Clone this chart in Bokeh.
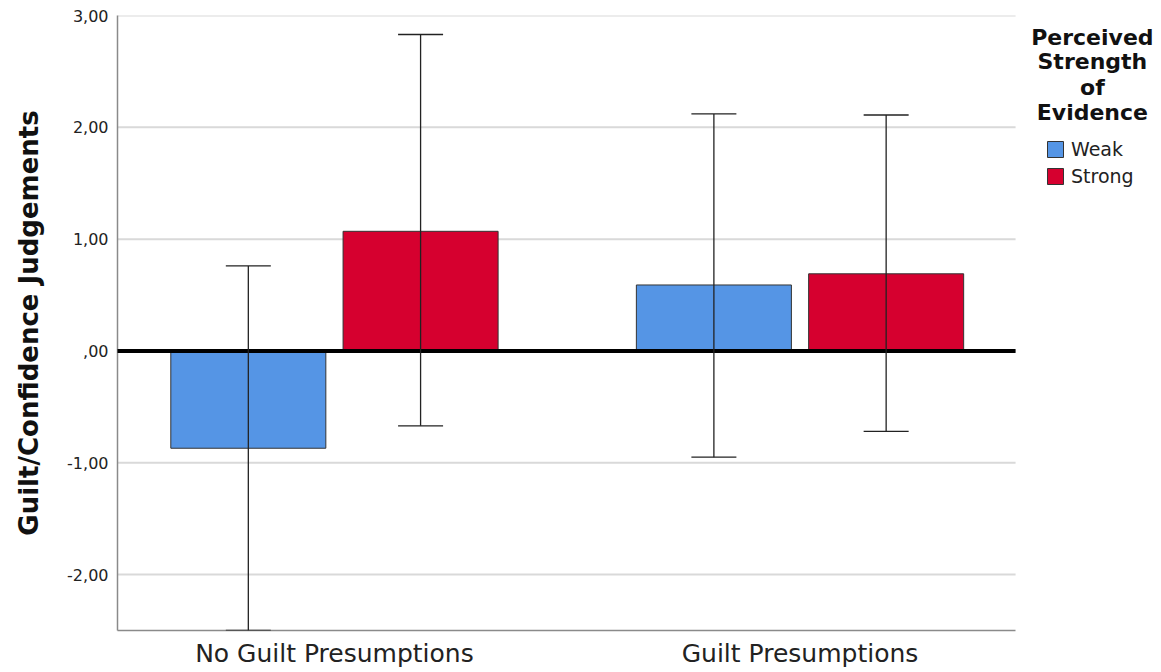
from bokeh.plotting import figure
from bokeh.models import (ColumnDataSource, Range1d, FixedTicker, Whisker, TeeHead,
                          Legend, LegendItem, Label)
from bokeh.embed import file_html
from bokeh.resources import INLINE

# ---- data ----
categories = ["No Guilt Presumptions", "Guilt Presumptions"]
series = ["Weak", "Strong"]
weak_mean = [-0.87, 0.59]
weak_lower = [-2.50, -0.95]
weak_upper = [0.76, 2.12]
strong_mean = [1.07, 0.69]
strong_lower = [-0.67, -0.72]
strong_upper = [2.83, 2.11]
y_ticks = [-2, -1, 0, 1, 2, 3]
y_tick_labels = ["-2,00", "-1,00", ",00", "1,00", "2,00", "3,00"]
legend_title = ["Perceived", "Strength", "of", "Evidence"]

FONT = "DejaVu Sans"
BLUE = "#5595E5"
RED = "#D6002F"

cat_x = [i + 1 for i in range(len(categories))]
offset = 0.185
bar_w = 0.333
X0, X1 = 0.534, 2.463   # extent of the plotting area proper
Y0, Y1 = -2.5, 3.0

p = figure(frame_width=1041, frame_height=615, output_backend="svg", toolbar_location=None,
           x_range=Range1d(X0, 2.770), y_range=Range1d(Y0, Y1),
           min_border_left=117, min_border_top=15, min_border_right=0, min_border_bottom=5)
p.outline_line_color = None
p.background_fill_color = "white"

# grid (drawn only across the plotting area)
p.xgrid.grid_line_color = None
p.ygrid.grid_line_color = None
p.segment(x0=[X0] * len(y_ticks), x1=[X1] * len(y_ticks), y0=y_ticks, y1=y_ticks,
          line_color="#d9d9d9", line_width=2)

# axes
p.yaxis.ticker = FixedTicker(ticks=y_ticks)
p.yaxis.major_label_overrides = {t: l for t, l in zip(y_ticks, y_tick_labels)}
p.xaxis.ticker = FixedTicker(ticks=cat_x)
p.xaxis.major_label_overrides = {t: l for t, l in zip(cat_x, categories)}
p.xaxis.bounds = (X0, X1)
for ax in (p.xaxis[0], p.yaxis[0]):
    ax.axis_line_color = "#8a8a8a"
    ax.axis_line_width = 1.5
    ax.major_tick_line_color = None
    ax.minor_tick_line_color = None
    ax.major_tick_out = 0
    ax.major_tick_in = 0
    ax.minor_tick_out = 0
    ax.major_label_text_font = FONT
    ax.major_label_text_color = "#222222"
p.yaxis.major_label_text_font_size = "16px"
p.yaxis.major_label_standoff = 9
p.xaxis.major_label_text_font_size = "25px"
p.xaxis.major_label_standoff = 8
p.yaxis.axis_label = "Guilt/Confidence Judgements"
p.yaxis.axis_label_text_font = FONT
p.yaxis.axis_label_text_font_style = "bold"
p.yaxis.axis_label_text_font_size = "26px"
p.yaxis.axis_label_text_color = "#111111"
p.yaxis.axis_label_standoff = 20

# bars
src_w = ColumnDataSource(dict(x=[c - offset for c in cat_x], top=weak_mean,
                              lo=weak_lower, up=weak_upper))
src_s = ColumnDataSource(dict(x=[c + offset for c in cat_x], top=strong_mean,
                              lo=strong_lower, up=strong_upper))
r_w = p.vbar(x="x", top="top", bottom=0, width=bar_w, source=src_w,
             fill_color=BLUE, line_color="#333333", line_width=1)
r_s = p.vbar(x="x", top="top", bottom=0, width=bar_w, source=src_s,
             fill_color=RED, line_color="#333333", line_width=1)

for src in (src_w, src_s):
    wk = Whisker(base="x", lower="lo", upper="up", source=src, level="annotation",
                 line_color="#222222", line_width=1.3,
                 upper_head=TeeHead(size=45, line_color="#222222", line_width=1.3),
                 lower_head=TeeHead(size=45, line_color="#222222", line_width=1.3))
    p.add_layout(wk)

# zero reference line
zero_src = ColumnDataSource(dict(x0=[X0], x1=[X1], y0=[0], y1=[0]))
zr = p.segment(x0="x0", x1="x1", y0="y0", y1="y1", source=zero_src,
               line_color="black", line_width=4)
zr.level = "annotation"

# legend
legend = Legend(items=[LegendItem(label=series[0], renderers=[r_w]),
                       LegendItem(label=series[1], renderers=[r_s])],
                location=(928, 443), padding=0, margin=0, spacing=5,
                glyph_width=20, glyph_height=20, label_height=20, label_standoff=6,
                label_text_font=FONT, label_text_font_size="19px",
                label_text_color="#222222", border_line_color=None,
                background_fill_alpha=0)
p.add_layout(legend, "center")

title_y = [2.80, 2.585, 2.36, 2.135]
for txt, ty in zip(legend_title, title_y):
    p.add_layout(Label(x=2.628, y=ty, text=txt, text_align="center", text_baseline="middle",
                       text_font=FONT, text_font_style="bold", text_font_size="22px",
                       text_color="#111111"))

open("out.html", "w").write(file_html(p, INLINE))
